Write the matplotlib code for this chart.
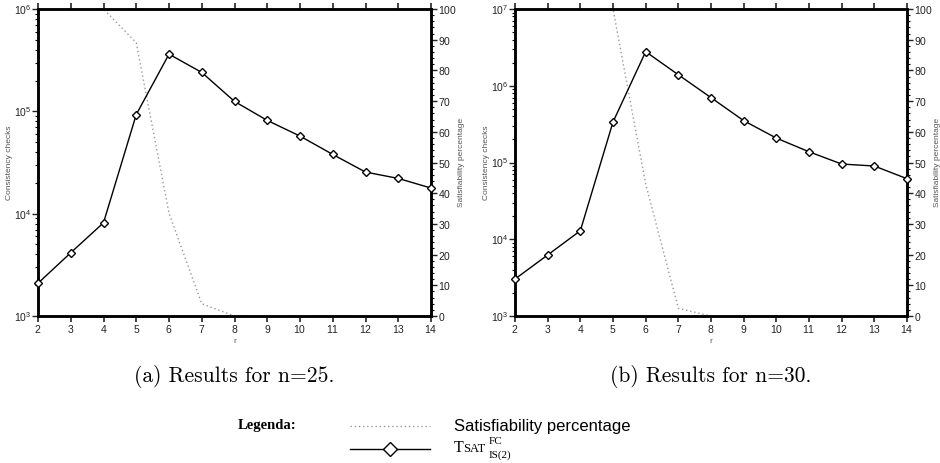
import numpy as np
import matplotlib
matplotlib.use("Agg")
import matplotlib.pyplot as plt
from matplotlib.lines import Line2D
from matplotlib.ticker import LogLocator, MultipleLocator, NullFormatter

# ---------------- data ----------------
r = [2, 3, 4, 5, 6, 7, 8, 9, 10, 11, 12, 13, 14]

checks_n25 = [2090, 4150, 8150, 93000, 362000, 240000, 125000, 81500,
              57300, 37900, 25500, 22100, 17800]
sat_n25 = [100, 100, 100, 89, 33.5, 4, 0, 0, 0, 0, 0, 0, 0]

checks_n30 = [3030, 6240, 12900, 337000, 2780000, 1390000, 700000, 351000,
              208000, 138000, 95500, 90000, 61500]
sat_n30 = [100, 100, 100, 100, 43, 2.5, 0, 0, 0, 0, 0, 0, 0]

captions = ["(a) Results for n=25.", "(b) Results for n=30."]
ylims = [(1e3, 1e6), (1e3, 1e7)]

# ---------------- figure ----------------
W, H = 940, 463
fig = plt.figure(figsize=(W / 100, H / 100), dpi=100)

SANS = ["Liberation Sans", "DejaVu Sans"]
SERIF_CM = ["cmr10", "DejaVu Serif"]
SERIF = ["Liberation Serif", "DejaVu Serif"]
plt.rcParams["axes.formatter.use_mathtext"] = True

def px(x0, y0, x1, y1):
    return [x0 / W, 1 - y1 / H, (x1 - x0) / W, (y1 - y0) / H]

boxes = [px(38, 9, 431, 316), px(515, 9, 907, 316)]
datasets = [(checks_n25, sat_n25), (checks_n30, sat_n30)]

tick_col = "#222222"
lab_col = "#555555"

for i, (box, (chk, sat), cap, yl) in enumerate(zip(boxes, datasets, captions, ylims)):
    ax = fig.add_axes(box)
    ax2 = ax.twinx()

    # satisfiability percentage (dotted, right axis)
    ax2.plot(r, sat, linestyle=(0, (1, 2)), color="#999999", lw=1.0, zorder=1)
    ax2.set_ylim(0, 100)
    ax2.yaxis.set_major_locator(MultipleLocator(10))
    ax2.yaxis.set_minor_locator(MultipleLocator(2))

    # consistency checks (left log axis)
    ax.set_zorder(ax2.get_zorder() + 1)
    ax.patch.set_visible(False)
    ax.plot(r, chk, color="black", lw=1.0, marker="D", markersize=3.8,
            markerfacecolor="white", markeredgecolor="black", markeredgewidth=1.0,
            clip_on=False, zorder=5)
    ax.set_yscale("log")
    ax.set_ylim(*yl)
    ax.set_xlim(2, 14)
    ax.set_xticks(r)
    ax.yaxis.set_major_locator(LogLocator(base=10, numticks=10))
    ax.yaxis.set_minor_locator(LogLocator(base=10, subs=np.arange(2, 10), numticks=20))
    ax.yaxis.set_minor_formatter(NullFormatter())

    for a in (ax, ax2):
        for s in a.spines.values():
            s.set_linewidth(1.8)
            s.set_color("black")
    ax.tick_params(axis="x", which="major", direction="out", top=True, bottom=True,
                   length=4, width=1.2, labelsize=7.5, pad=1, colors=tick_col)
    ax.tick_params(axis="y", which="major", direction="out", length=4, width=1.0,
                   labelsize=7.5, pad=1, colors=tick_col)
    ax.tick_params(axis="y", which="minor", direction="out", length=2.5, width=0.8)
    ax2.tick_params(axis="y", which="major", direction="out", length=4, width=1.0,
                    labelsize=7.5, pad=1, colors=tick_col)
    ax2.tick_params(axis="y", which="minor", direction="out", length=2.5, width=0.8)
    for lab in ax.get_xticklabels() + ax.get_yticklabels() + ax2.get_yticklabels():
        lab.set_family(SANS)

    ax.set_xlabel("r", fontsize=6, color=lab_col, family=SANS, labelpad=2)
    ax.set_ylabel("Consistency checks", fontsize=6, color=lab_col, family=SANS, labelpad=0.5)
    ax2.set_ylabel("Satisfiability percentage", fontsize=6, color=lab_col, family=SANS,
                   rotation=90, labelpad=0.5)

    cx = (box[0] + box[2] / 2)
    fig.text(cx, 1 - 376 / H, cap, ha="center", va="center", fontsize=15.5,
             family=SERIF_CM)

# ---------------- legend ----------------
y1 = 1 - 426 / H
y2 = 1 - 449 / H
fig.text(238 / W, y1, "Legenda:", ha="left", va="center", fontsize=10.5,
         family=SERIF, fontweight="bold")
fig.add_artist(Line2D([350 / W, 430 / W], [y1, y1],
                      transform=fig.transFigure, color="#999999", lw=1.0,
                      linestyle=(0, (1, 2))))
fig.text(454 / W, y1, "Satisfiability percentage", ha="left", va="center",
         fontsize=12, family=SANS)
fig.add_artist(Line2D([350 / W, 430 / W], [y2, y2],
                      transform=fig.transFigure, color="black", lw=1.0))
fig.add_artist(Line2D([390 / W], [y2], transform=fig.transFigure,
                      marker="D", markersize=7, markerfacecolor="white",
                      markeredgecolor="black", markeredgewidth=1.0, linestyle="none"))
fig.text(454 / W, 1 - 448 / H, "T", ha="left", va="center", fontsize=11.5, family=SERIF)
fig.text(463.5 / W, 1 - 448.5 / H, "SAT", ha="left", va="center", fontsize=9, family=SERIF)
fig.text(489 / W, 1 - 441 / H, "FC", ha="left", va="center", fontsize=8, family=SERIF)
fig.text(489 / W, 1 - 455 / H, "IS(2)", ha="left", va="center", fontsize=8, family=SERIF)

fig.savefig("out.png", dpi=100)
